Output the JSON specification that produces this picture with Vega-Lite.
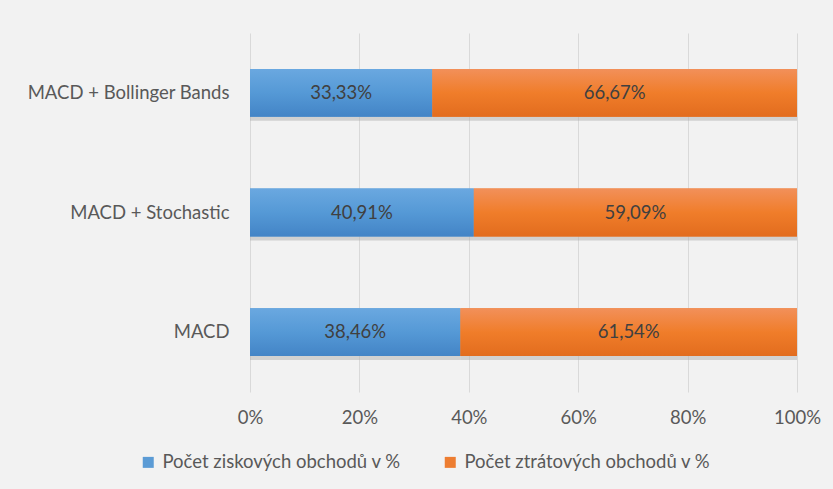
{
  "$schema": "https://vega.github.io/schema/vega-lite/v6.json",
  "width": 547,
  "height": 359,
  "autosize": {"type": "none"},
  "padding": {"left": 250, "top": 33, "right": 36, "bottom": 97},
  "background": "#f2f2f2",
  "config": {
    "locale": {"number": {"decimal": ",", "thousands": " ", "grouping": [3], "currency": ["", " Kč"]}},
    "view": {"stroke": null},
    "font": "Lato"
  },
  "data": {
    "values": [
      {"strategy": "MACD + Bollinger Bands", "series": "Počet ziskových obchodů v %", "share": 0.3333, "seq": 1},
      {"strategy": "MACD + Bollinger Bands", "series": "Počet ztrátových obchodů v %", "share": 0.6667, "seq": 2},
      {"strategy": "MACD + Stochastic", "series": "Počet ziskových obchodů v %", "share": 0.4091, "seq": 1},
      {"strategy": "MACD + Stochastic", "series": "Počet ztrátových obchodů v %", "share": 0.5909, "seq": 2},
      {"strategy": "MACD", "series": "Počet ziskových obchodů v %", "share": 0.3846, "seq": 1},
      {"strategy": "MACD", "series": "Počet ztrátových obchodů v %", "share": 0.6154, "seq": 2}
    ]
  },
  "encoding": {
    "y": {
      "field": "strategy",
      "type": "nominal",
      "sort": ["MACD + Bollinger Bands", "MACD + Stochastic", "MACD"],
      "scale": {"paddingInner": 0.6, "paddingOuter": 0.3},
      "axis": {
        "title": null,
        "ticks": false,
        "domain": false,
        "grid": false,
        "labelFontSize": 18.5,
        "labelLimit": 400,
        "labelColor": "#595959",
        "labelPadding": 21
      }
    },
    "x": {
      "field": "share",
      "type": "quantitative",
      "stack": "zero",
      "scale": {"domain": [0, 1]},
      "axis": {
        "title": null,
        "format": "%",
        "values": [0, 0.2, 0.4, 0.6, 0.8, 1],
        "grid": true,
        "gridColor": "#d9d9d9",
        "gridWidth": 1,
        "ticks": false,
        "domain": false,
        "labelFlush": false,
        "labelFontSize": 18.5,
        "labelColor": "#595959",
        "labelPadding": 16
      }
    },
    "detail": {"field": "series", "type": "nominal"},
    "order": {"field": "seq", "type": "quantitative"}
  },
  "layer": [
    {
      "mark": {"type": "bar", "color": "#b0b0b0", "opacity": 0.5, "yOffset": 4},
      "encoding": {}
    },
    {
      "mark": {"type": "bar"},
      "encoding": {
        "color": {
          "field": "series",
          "type": "nominal",
          "sort": ["Počet ziskových obchodů v %", "Počet ztrátových obchodů v %"],
          "scale": {"range": ["#5b9bd5", "#ed7d31"]},
          "legend": {
            "title": null,
            "orient": "none",
            "direction": "horizontal",
            "legendX": -111,
            "legendY": 420,
            "symbolType": "square",
            "symbolSize": 121,
            "symbolStrokeWidth": 0,
            "labelFontSize": 18.5,
            "labelColor": "#595959",
            "labelOffset": 5,
            "labelLimit": 400,
            "columnPadding": 40
          }
        }
      }
    },
    {
      "mark": {"type": "bar"},
      "encoding": {
        "fill": {
          "condition": {
            "test": "datum.seq === 1",
            "value": {"gradient": "linear", "x1": 0, "y1": 0, "x2": 0, "y2": 1, "stops": [{"offset": 0, "color": "#6aa8e0"}, {"offset": 0.5, "color": "#5599d6"}, {"offset": 1, "color": "#4384c6"}]}
          },
          "value": {"gradient": "linear", "x1": 0, "y1": 0, "x2": 0, "y2": 1, "stops": [{"offset": 0, "color": "#f2905a"}, {"offset": 0.5, "color": "#f07d2a"}, {"offset": 1, "color": "#e26c1e"}]}
        }
      }
    },
    {
      "mark": {"type": "text", "fontSize": 18.5, "color": "#404040", "baseline": "middle", "align": "center"},
      "encoding": {
        "x": {"field": "share", "type": "quantitative", "stack": "zero", "bandPosition": 0.5},
        "text": {"field": "share", "type": "quantitative", "format": ".2%"}
      }
    }
  ]
}
